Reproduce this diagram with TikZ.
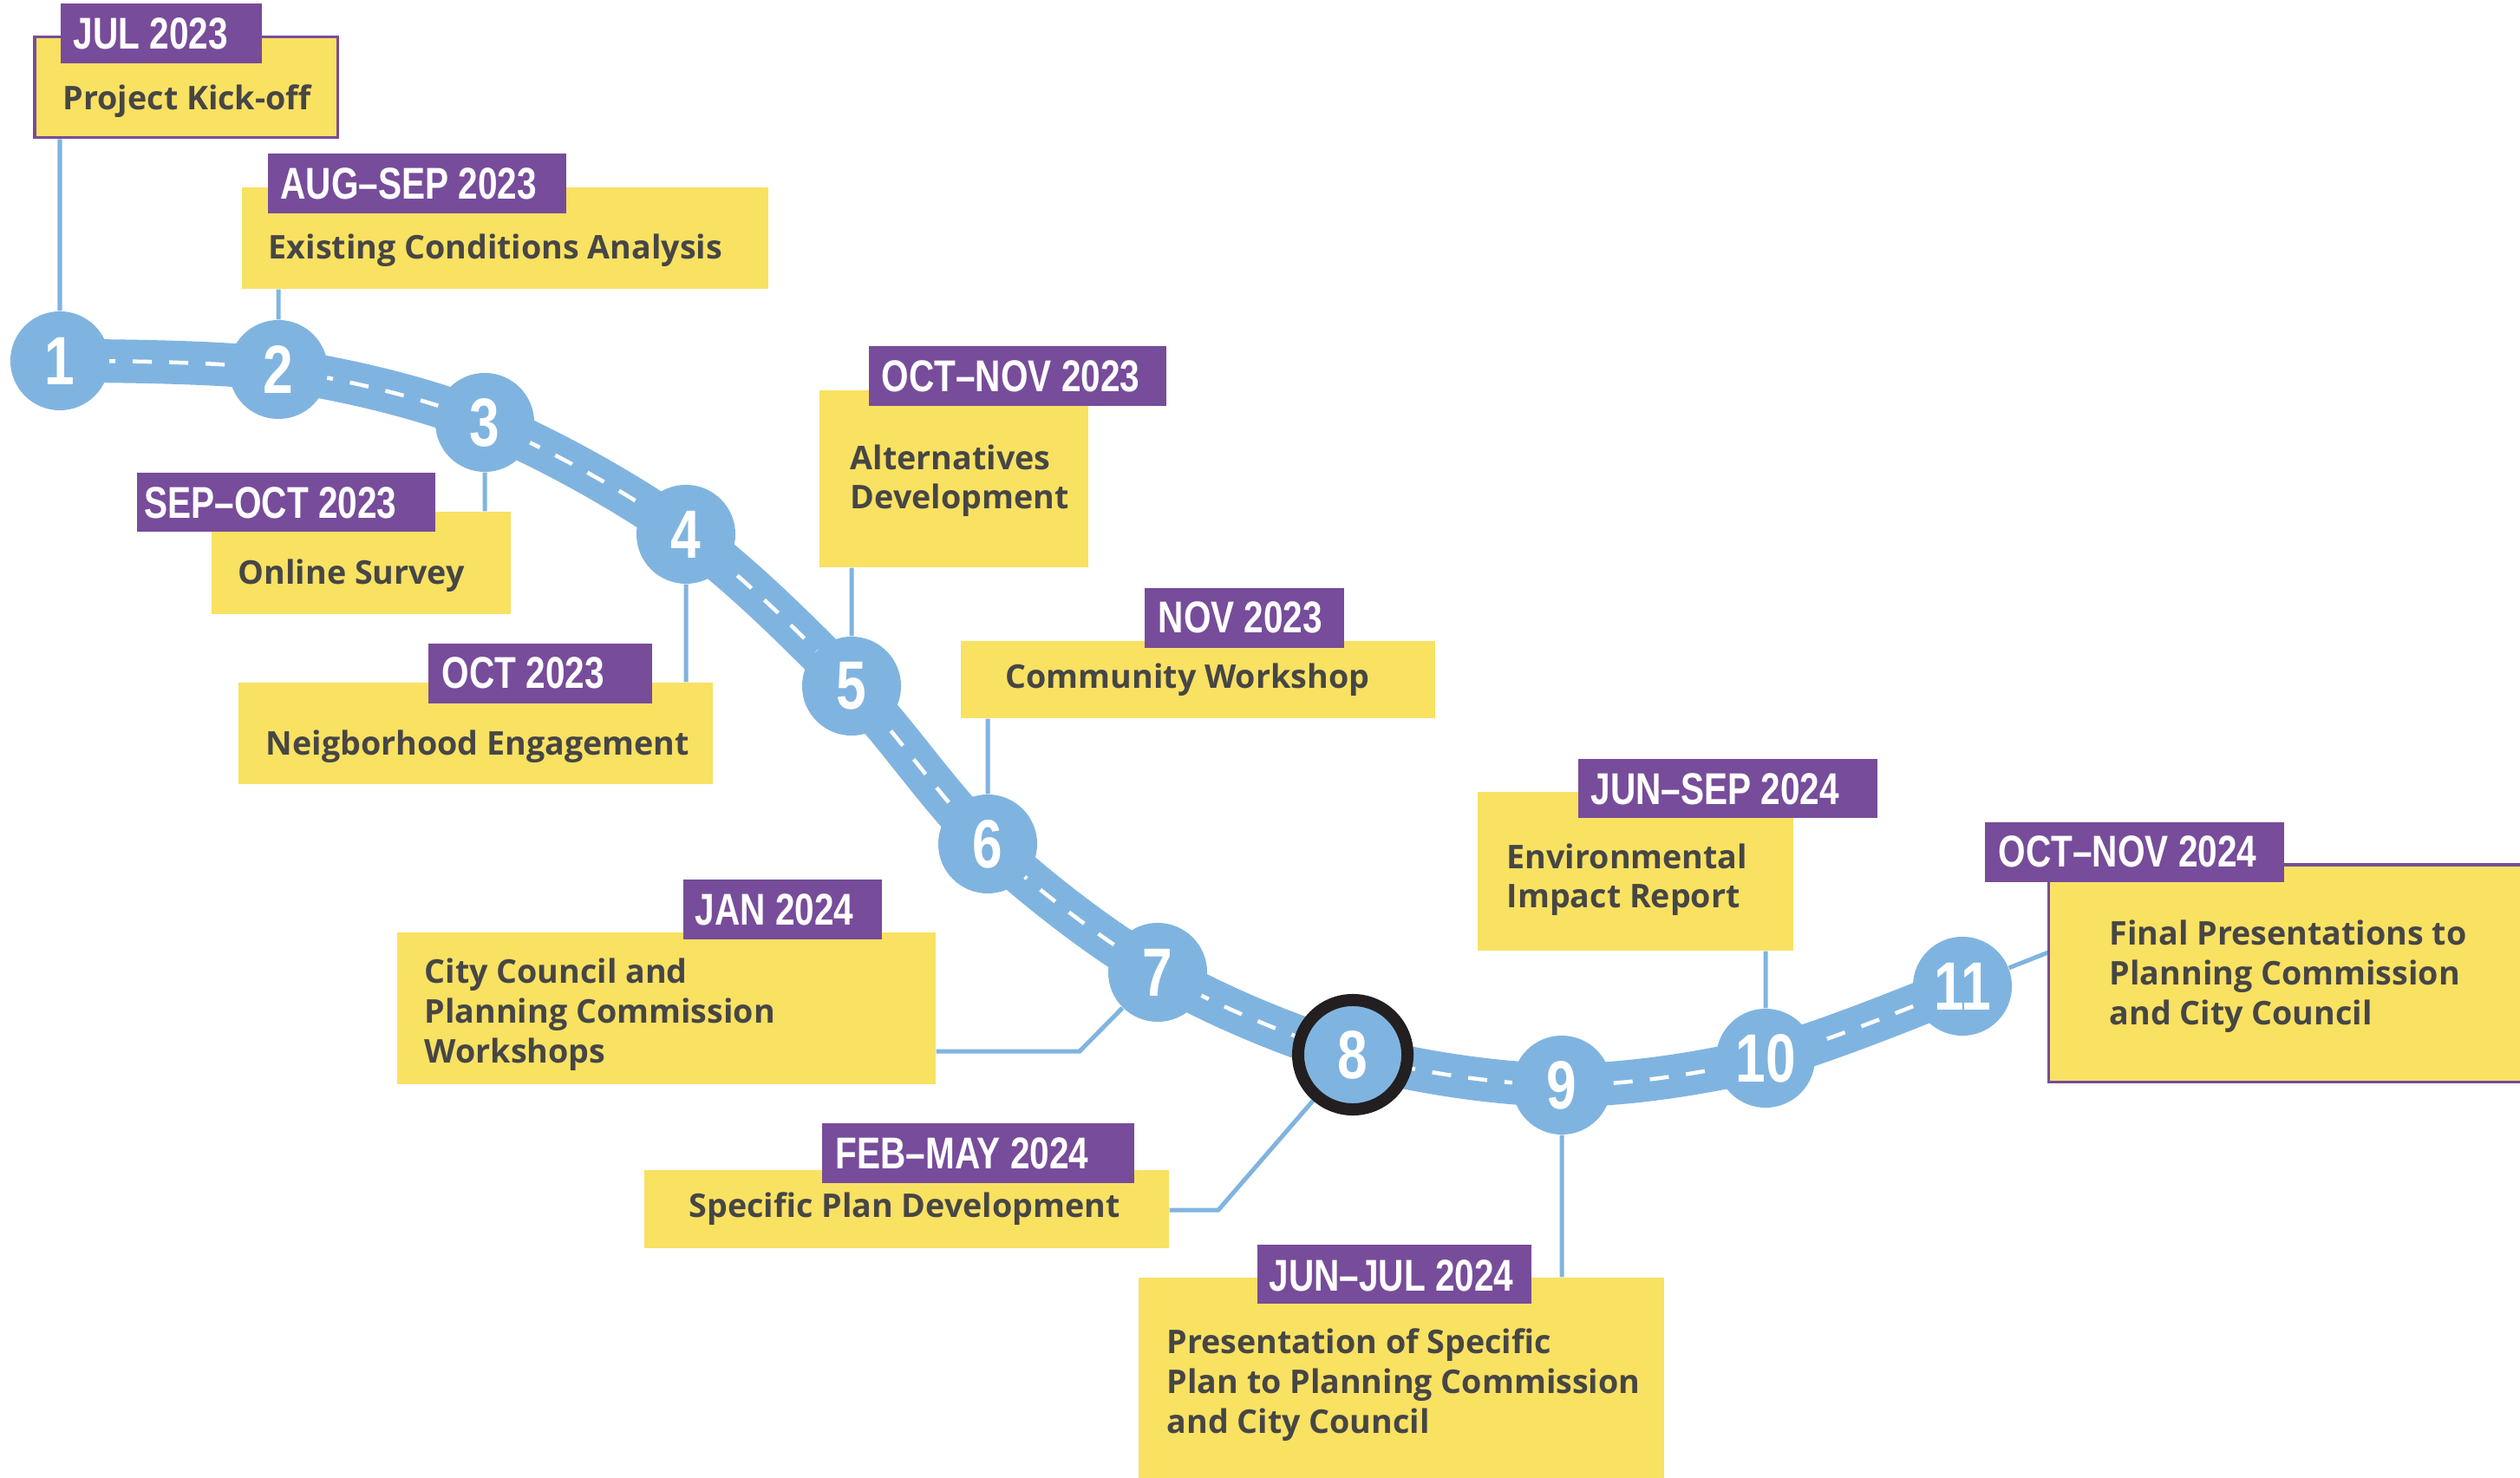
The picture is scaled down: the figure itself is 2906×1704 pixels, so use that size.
\documentclass[tikz,border=0pt]{standalone}
\usepackage{fontspec}
\setmainfont{Open Sans}
\newfontfamily\datefont{Liberation Sans}[FakeStretch=0.79]
\usetikzlibrary{fit}
\definecolor{roadblue}{RGB}{128,180,224}
\definecolor{tagpurple}{RGB}{119,76,154}
\definecolor{noteyellow}{RGB}{249,225,98}
\definecolor{notegray}{RGB}{70,70,70}
\definecolor{ringblack}{RGB}{35,31,32}
\pgfdeclarelayer{bg}
\pgfsetlayers{bg,main}

\begin{document}
\begin{tikzpicture}[x=0.01cm,y=-0.01cm,
    stop/.style={circle,fill=roadblue,inner sep=0pt,minimum size=1.14cm,text=white,
      font=\datefont\bfseries\fontsize{22.4}{22}\selectfont},
    notebox/.style={fill=noteyellow,inner sep=0pt},
    tagbox/.style={fill=tagpurple,inner sep=0pt},
    tagtext/.style={anchor=base west,inner sep=0pt,text=white,
      font=\datefont\bfseries\fontsize{14.6}{16}\selectfont},
    notetext/.style={anchor=base west,inner sep=0pt,align=left,text=notegray,
      font=\bfseries\fontsize{10.7}{13.05}\selectfont},
    link/.style={roadblue,line width=0.05cm}]
  \useasboundingbox (0,0) rectangle (2906,1704);

      \node (c1) at (69,416) [stop] {1};
      \node (c2) at (321,426) [stop] {2};
      \node (c3) at (559,487) [stop] {3};
      \node (c4) at (791,616) [stop] {4};
      \node (c5) at (982,791) [stop] {5};
      \node (c6) at (1139,973) [stop] {6};
      \node (c7) at (1335,1121) [stop] {7};
      \node (c8) at (1560,1216) [stop,draw=ringblack,line width=0.14cm,minimum size=1.26cm] {8};
      \node (c9) at (1801,1251) [stop] {9};
      \node (c10) at (2036,1220) [stop] {10};
      \node (c11) at (2263,1137) [stop] {11};

      \node (b1) [notebox,draw=tagpurple,line width=0.03cm,fit={(40,43) (389,159)}] {};
      \node (b2) [notebox,fit={(279,216) (886,333)}] {};
      \node (b3) [notebox,fit={(244,590) (589,708)}] {};
      \node (b4) [notebox,fit={(275,787) (822,904)}] {};
      \node (b5) [notebox,fit={(945,450) (1255,654)}] {};
      \node (b6) [notebox,fit={(1108,739) (1655,828)}] {};
      \node (b7) [notebox,fit={(458,1075) (1079,1250)}] {};
      \node (b8) [notebox,fit={(743,1349) (1348,1439)}] {};
      \node (b9) [notebox,fit={(1313,1473) (1919,1712)}] {};
      \node (b10) [notebox,fit={(1704,913) (2068,1096)}] {};
      \node (b11) [notebox,draw=tagpurple,line width=0.03cm,fit={(2362,997) (2914,1247)}] {};

      \node (t1) [tagbox,fit={(70,4) (302,73)}] {};
      \node (t2) [tagbox,fit={(309,177) (653,246)}] {};
      \node (t3) [tagbox,fit={(158,545) (502,613)}] {};
      \node (t4) [tagbox,fit={(494,742) (752,811)}] {};
      \node (t5) [tagbox,fit={(1002,399) (1345,468)}] {};
      \node (t6) [tagbox,fit={(1320,678) (1550,747)}] {};
      \node (t7) [tagbox,fit={(788,1014) (1017,1083)}] {};
      \node (t8) [tagbox,fit={(948,1295) (1308,1364)}] {};
      \node (t9) [tagbox,fit={(1450,1435) (1766,1503)}] {};
      \node (t10) [tagbox,fit={(1820,875) (2165,943)}] {};
      \node (t11) [tagbox,fit={(2289,948) (2634,1017)}] {};

      \node (d1) at (84,57) [tagtext] {JUL 2023};
      \node (d2) at (323,230) [tagtext] {AUG–SEP 2023};
      \node (d3) at (166,598) [tagtext] {SEP–OCT 2023};
      \node (d4) at (509,794) [tagtext] {OCT 2023};
      \node (d5) at (1016,452) [tagtext] {OCT–NOV 2023};
      \node (d6) at (1335,730) [tagtext] {NOV 2023};
      \node (d7) at (801,1067) [tagtext] {JAN 2024};
      \node (d8) at (963,1347) [tagtext] {FEB–MAY 2024};
      \node (d9) at (1463,1488) [tagtext] {JUN–JUL 2024};
      \node (d10) at (1834,928) [tagtext] {JUN–SEP 2024};
      \node (d11) at (2304,1000) [tagtext] {OCT–NOV 2024};

      % multi-line notes sit on the baseline of their last line
      \node (n1) at (72,127) [notetext] {Project Kick-off};
      \node (n2) at (309,299) [notetext] {Existing Conditions Analysis};
      \node (n3) at (274,674) [notetext] {Online Survey};
      \node (n4) at (306,871) [notetext] {Neigborhood Engagement};
      \node (n5) at (980,587) [notetext] {Alternatives\\Development};
      \node (n6) at (1159,794) [notetext] {Community Workshop};
      \node (n7) at (489,1225) [notetext] {City Council and\\Planning Commission\\Workshops};
      \node (n8) at (794,1403) [notetext] {Specific Plan Development};
      \node (n9) at (1345,1652) [notetext] {Presentation of Specific\\Plan to Planning Commission\\and City Council};
      \node (n10) at (1737,1047) [notetext] {Environmental\\Impact Report};
      \node (n11) at (2432,1181) [notetext] {Final Presentations to\\Planning Commission\\and City Council};

      \coordinate (k7) at (1245,1212);
      \coordinate (k8) at (1405,1395);
      \coordinate (k11) at (2362,1098);

  \begin{pgfonlayer}{bg}
    \draw[link]
    (b1.south -| c1) -- (c1)
    (b2.south -| c2) -- (c2)
    (c3) -- (b3.north -| c3)
    (c4) -- (b4.north -| c4)
    (b5.south -| c5) -- (c5)
    (b6.south -| c6) -- (c6)
    (b7.east |- k7) -- (k7) -- (c7)
    (b8.east |- k8) -- (k8) -- (c8)
    (c9) -- (b9.north -| c9)
    (b10.south -| c10) -- (c10)
    (c11) -- (k11);

    % the road and its centre line
    \draw[roadblue,line width=0.5cm] plot[smooth,tension=0.55] coordinates
      {(c1.center) (c2.center) (c3.center) (c4.center) (c5.center) (c6.center)
       (c7.center) (c8.center) (c9.center) (c10.center) (c11.center)};
    \draw[white,line width=0.045cm,dash pattern=on 0.22cm off 0.2cm] plot[smooth,tension=0.55] coordinates
      {(c1.center) (c2.center) (c3.center) (c4.center) (c5.center) (c6.center)
       (c7.center) (c8.center) (c9.center) (c10.center) (c11.center)};
  \end{pgfonlayer}
\end{tikzpicture}
\end{document}
